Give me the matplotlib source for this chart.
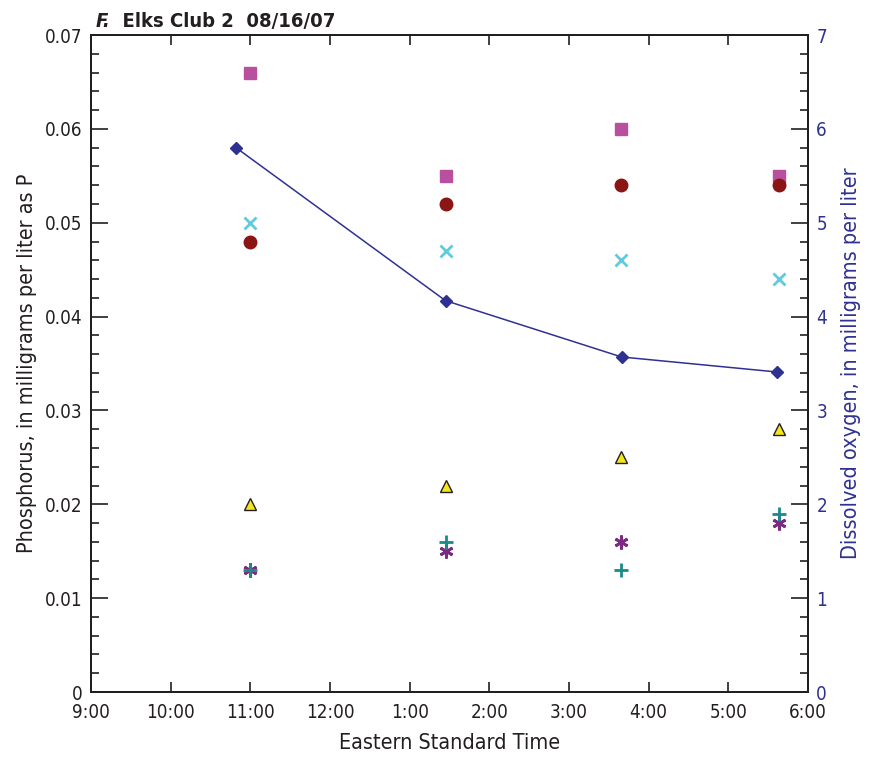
import numpy as np
import matplotlib
matplotlib.use("Agg")
import matplotlib.pyplot as plt
from matplotlib.ticker import MultipleLocator, FixedLocator

plt.rcParams["font.family"] = ["DejaVu Sans"]
plt.rcParams["font.stretch"] = "condensed"

# sample times in decimal hours (EST)
t_samples = [11.0, 13.46, 15.65, 17.64]
t_do = [10.82, 13.45, 15.66, 17.61]

# phosphorus series (mg/L as P)
p_square = [0.066, 0.055, 0.060, 0.055]
p_circle = [0.048, 0.052, 0.054, 0.054]
p_xmark = [0.050, 0.047, 0.046, 0.044]
p_triangle = [0.020, 0.022, 0.025, 0.028]
p_plus = [0.013, 0.016, 0.013, 0.019]
p_star = [0.013, 0.015, 0.016, 0.018]

# dissolved oxygen (mg/L)
do_vals = [5.8, 4.17, 3.57, 3.41]

x_ticks = [9, 10, 11, 12, 13, 14, 15, 16, 17, 18]
x_labels = ["9:00", "10:00", "11:00", "12:00", "1:00", "2:00", "3:00", "4:00", "5:00", "6:00"]
p_ticks = [0, 0.01, 0.02, 0.03, 0.04, 0.05, 0.06, 0.07]
p_labels = ["0", "0.01", "0.02", "0.03", "0.04", "0.05", "0.06", "0.07"]
do_ticks = [0, 1, 2, 3, 4, 5, 6, 7]

ink = "#231f20"
blue = "#2e3192"

fig = plt.figure(figsize=(8.7, 7.65), dpi=100)
ax = fig.add_axes([0.1046, 0.0954, 0.8241, 0.8588])
ax2 = ax.twinx()

ax.plot(t_samples, p_square, ls="none", marker="s", ms=9, color="#b8509f", mec="#b8509f", zorder=3)
ax.plot(t_samples, p_circle, ls="none", marker="o", ms=9, color="#8b1414", zorder=3)
ax.plot(t_samples, p_xmark, ls="none", marker="x", ms=8.5, mew=2, color="#5fcbdc", zorder=3)
ax.plot(t_samples, p_triangle, ls="none", marker="^", ms=8, color="#f4e51c", mec=ink, mew=1, zorder=3)
ax.plot(t_samples, p_star, ls="none", marker=(6, 2, 0), ms=10, mew=2, color="#7d2a82", zorder=3)
ax.plot(t_samples, p_plus, ls="none", marker="+", ms=10, mew=2, color="#1b8a8a", zorder=4)

ax2.plot(t_do, do_vals, color=blue, lw=1.1, marker="D", ms=6, mfc=blue, mec=blue)

ax.set_xlim(9, 18)
ax.set_ylim(0, 0.07)
ax2.set_ylim(0, 7)

ax.xaxis.set_major_locator(FixedLocator(x_ticks))
ax.set_xticklabels(x_labels)
ax.yaxis.set_major_locator(FixedLocator(p_ticks))
ax.yaxis.set_minor_locator(MultipleLocator(0.002))
ax.set_yticklabels(p_labels)
ax2.yaxis.set_major_locator(FixedLocator(do_ticks))
ax2.yaxis.set_minor_locator(MultipleLocator(0.2))

ax.tick_params(axis="x", which="both", direction="in", top=True, length=7, width=1.2,
               color=ink, labelsize=13.5, labelcolor=ink, pad=8)
ax.tick_params(axis="y", which="major", direction="in", length=12, width=1.2,
               color=ink, labelsize=13.5, labelcolor=ink, pad=6)
ax.tick_params(axis="y", which="minor", direction="in", length=6, width=1.2, color=ink)
ax2.tick_params(axis="y", which="major", direction="in", length=12, width=1.2,
                color=ink, labelsize=13.5, labelcolor=blue, pad=6)
ax2.tick_params(axis="y", which="minor", direction="in", length=6, width=1.2, color=ink)

for a in (ax, ax2):
    for s in a.spines.values():
        s.set_color(ink)
        s.set_linewidth(1.4)

ax.set_xlabel("Eastern Standard Time", fontsize=15.5, color=ink, labelpad=8)
ax.set_ylabel("Phosphorus, in milligrams per liter as P", fontsize=15.5, color=ink, labelpad=6)
ax2.set_ylabel("Dissolved oxygen, in milligrams per liter", fontsize=15.5, color=blue, labelpad=10)

t1 = ax.text(0.006, 1.006, "F.", transform=ax.transAxes, fontsize=14.5,
             fontweight="bold", fontstyle="italic", color=ink, ha="left", va="bottom")
ax.annotate("  Elks Club 2  08/16/07", xy=(1, 0), xycoords=t1, fontsize=14.5,
            fontweight="bold", color=ink, ha="left", va="bottom")

fig.savefig("out.png", dpi=100)
